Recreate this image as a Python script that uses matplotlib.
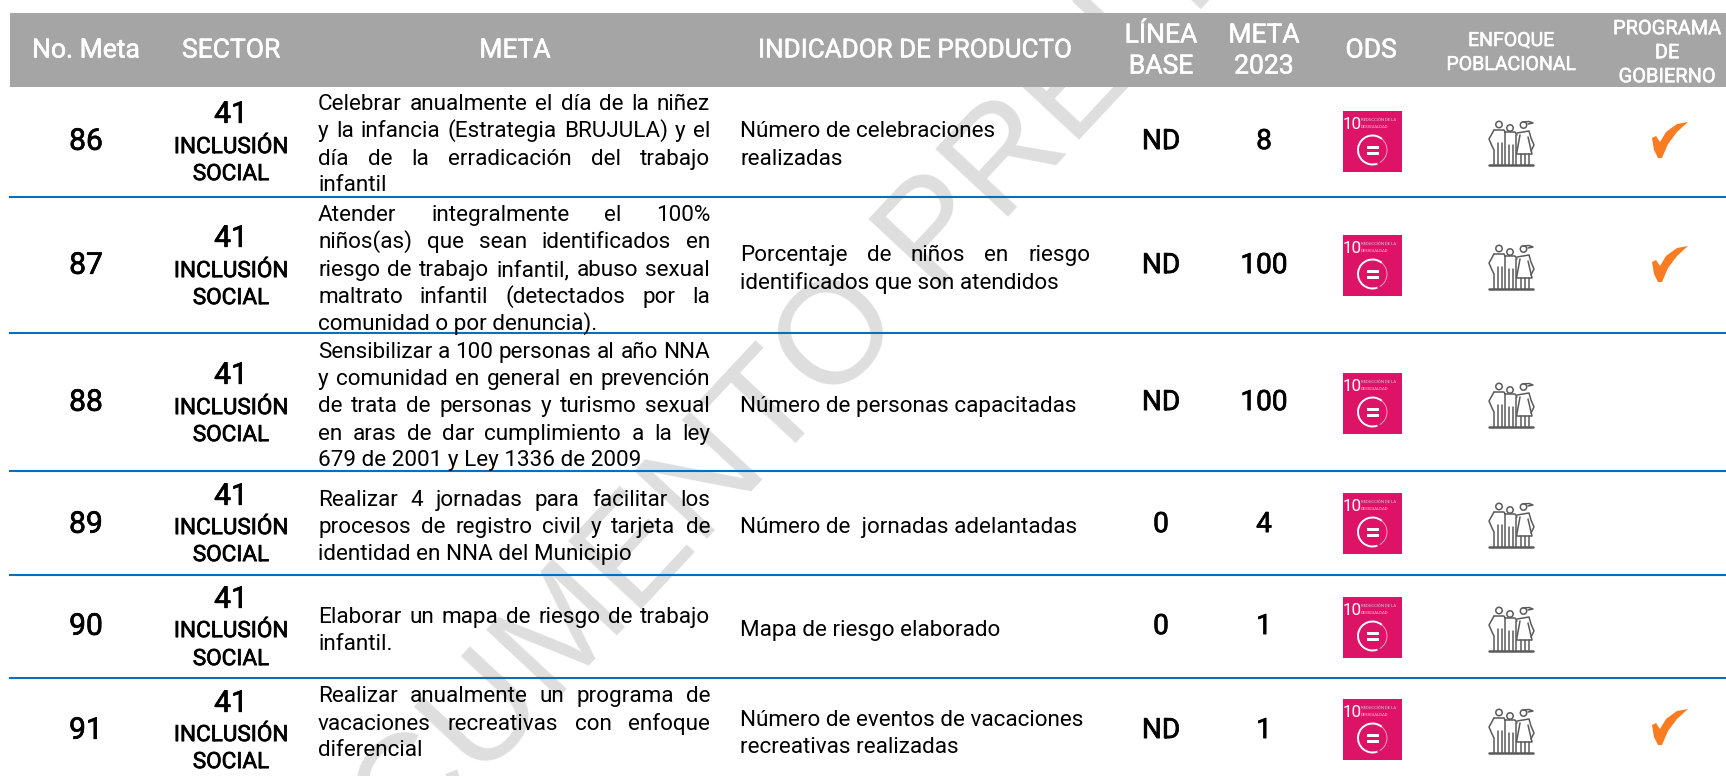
import numpy as np
import matplotlib
matplotlib.use("Agg")
import matplotlib.pyplot as plt
import matplotlib.patheffects as pe
from matplotlib.patches import Rectangle, Polygon, Circle, Arc
from matplotlib.lines import Line2D

FONT = ['Roboto', 'DejaVu Sans']

# ---------- data ----------
metas = ["86", "87", "88", "89", "90", "91"]
sector_code = ["41"] * 6
sector_name = ["INCLUSIÓN", "SOCIAL"]
linea_base = ["ND", "ND", "ND", "0", "0", "ND"]
meta_2023 = ["8", "100", "100", "4", "1", "1"]
programa = [True, True, False, False, False, True]
meta_text = [
    ["Celebrar anualmente el día de la niñez", "y la infancia (Estrategia BRUJULA)  y el",
     "día de la erradicación del trabajo", "infantil"],
    ["Atender integralmente el 100%", "niños(as) que sean identificados en",
     "riesgo de trabajo infantil, abuso sexual", "maltrato infantil (detectados por la",
     "comunidad o por denuncia)."],
    ["Sensibilizar a 100 personas al año NNA", "y comunidad en general en prevención",
     "de trata de personas y turismo sexual", "en aras de dar cumplimiento a la ley",
     "679 de 2001 y Ley 1336 de 2009"],
    ["Realizar 4 jornadas para facilitar los", "procesos de registro civil y tarjeta de",
     "identidad en NNA del Municipio"],
    ["Elaborar un mapa de riesgo de trabajo", "infantil."],
    ["Realizar anualmente un programa de", "vacaciones recreativas con enfoque", "diferencial"],
]
indicador = [
    ["Número de celebraciones", "realizadas"],
    ["Porcentaje de niños en riesgo", "identificados que son atendidos"],
    ["Número de personas capacitadas"],
    ["Número de  jornadas adelantadas"],
    ["Mapa de riesgo elaborado"],
    ["Número de eventos de vacaciones", "recreativas realizadas"],
]
indicador_justified = [False, True, False, False, False, False]
headers = [["No. Meta"], ["SECTOR"], ["META"], ["INDICADOR DE PRODUCTO"], ["LÍNEA", "BASE"],
           ["META", "2023"], ["ODS"], ["ENFOQUE", "POBLACIONAL"], ["PROGRAMA", "DE", "GOBIERNO"]]
watermark = "DOCUMENTO PRELIMINAR"

# ---------- layout (pixels) ----------
W, H = 1726, 776
col_x = [86, 231, 515, 915, 1161, 1264, 1371, 1511, 1667]
header_line_y = [[48], [48], [48], [48], [33, 64], [33, 64], [48], [39, 63], [27, 51, 75]]
header_px = [26.5, 26.5, 26.5, 26, 26.5, 26.5, 26.5, 19.5, 20]
rule_y = [197, 333, 471, 575, 678]
row_y = [139, 263, 400, 522, 624, 728]
sector_y = [(112, 145, 172), (236, 269, 296), (373, 406, 433), (494, 526, 553), (597, 629, 657), (701, 733, 760)]
meta_y = [[102, 129, 157, 183], [213, 240, 268, 295, 322], [350, 377, 404, 432, 458],
          [498, 525, 552], [615, 642], [694, 722, 748]]
ind_y = [[129, 157], [253, 281], [404], [525], [628], [718, 745]]
sdg_top = [111, 235, 373, 493, 597, 699]
people_top = [121, 245, 383, 503, 607, 709]
check_top = [122, 246, None, None, None, 709]

fig = plt.figure(figsize=(W / 100, H / 100), dpi=100)
ax = fig.add_axes([0, 0, 1, 1])
ax.set_xlim(0, W)
ax.set_ylim(H, 0)
ax.axis("off")
renderer = fig.canvas.get_renderer()
HEAVY = [pe.withStroke(linewidth=0.5, foreground="black")]
WHITE_HEAVY = [pe.withStroke(linewidth=0.4, foreground="white")]


def pt(px):
    return px * 0.72


def label(x, y, s, px, color="black", ha="center", heavy=False, z=6):
    t = ax.text(x, y + px * 0.36, s, fontsize=pt(px), color=color, ha=ha, va="baseline",
                family=FONT, zorder=z)
    if heavy:
        t.set_path_effects(HEAVY if color == "black" else WHITE_HEAVY)
    return t


def width(s, px):
    t = ax.text(0, 0, s, fontsize=pt(px), family=FONT)
    w = t.get_window_extent(renderer).width
    t.remove()
    return w


def justified(x0, x1, y, s, px):
    words = s.split()
    ws = [width(w, px) for w in words]
    gap = (x1 - x0 - sum(ws)) / max(1, len(words) - 1)
    x = x0
    for w, wd in zip(words, ws):
        label(x, y, w, px, ha="left")
        x += wd + gap


# watermark sits below the header band
ax.text(233, 993, watermark, fontsize=pt(145), color="#dedede", rotation=47, rotation_mode="anchor",
        ha="left", va="center", family=['Liberation Sans', 'DejaVu Sans'], zorder=1)

ax.add_patch(Rectangle((10, 13), W - 10, 74, fc="#a5a5a5", ec="none", zorder=2))
for x, lines, ys, px in zip(col_x, headers, header_line_y, header_px):
    for s, y in zip(lines, ys):
        label(x, y, s, px, color="white", heavy=True)

for y in rule_y:
    ax.add_line(Line2D([10, W], [y, y], color="#0070c0", lw=1.5, zorder=5))

BODY = 22.5
for i in range(len(metas)):
    label(col_x[0], row_y[i], metas[i], 30, heavy=True)
    label(col_x[1], sector_y[i][0], sector_code[i], 30, heavy=True)
    label(col_x[1], sector_y[i][1], sector_name[0], 22.5, heavy=True)
    label(col_x[1], sector_y[i][2], sector_name[1], 22.5, heavy=True)
    n = len(meta_text[i])
    for j, (s, y) in enumerate(zip(meta_text[i], meta_y[i])):
        if j < n - 1:
            justified(318, 710, y, s, BODY)
        else:
            label(318, y, s, BODY, ha="left")
    for j, (s, y) in enumerate(zip(indicador[i], ind_y[i])):
        if indicador_justified[i] and j == 0:
            justified(740, 1090, y, s, BODY)
        else:
            label(740, y, s, BODY, ha="left")
    label(col_x[4], row_y[i], linea_base[i], 28, heavy=True)
    label(col_x[5], row_y[i], meta_2023[i], 28, heavy=True)


def sdg_icon(x, y):
    ax.add_patch(Rectangle((x, y), 59, 61, fc="#dd1367", ec="none", zorder=4))
    ax.text(x + 9, y + 18, "10", fontsize=pt(17), color="white", ha="center", va="baseline",
            family=FONT, zorder=5)
    ax.text(x + 18, y + 10, "REDUCCIÓN DE LA", fontsize=pt(4.2), color="#f7c6da", ha="left", va="baseline",
            family=FONT, zorder=5)
    ax.text(x + 18, y + 17, "DESIGUALDAD", fontsize=pt(4.2), color="#f7c6da", ha="left", va="baseline",
            family=FONT, zorder=5)
    cx, cy = x + 29.5, y + 39
    ax.add_patch(Arc((cx, cy), 29, 29, theta1=70, theta2=310, ec="white", lw=1.4, zorder=5))
    ax.add_patch(Arc((cx, cy), 29, 29, theta1=-50, theta2=60, ec="#f0a0c4", lw=0.7, zorder=5))
    ax.add_patch(Rectangle((cx - 6, cy - 4.5), 12, 3, fc="white", ec="none", zorder=5))
    ax.add_patch(Rectangle((cx - 6, cy + 1.5), 12, 3, fc="white", ec="none", zorder=5))


def people_icon(x, y):
    c = "#5a5a5a"
    lw = 1.1
    kw = dict(color=c, lw=lw, zorder=4, solid_capstyle="round")

    def pl(pts, **k):
        a = np.array(pts, float)
        ax.add_line(Line2D(x + a[:, 0], y + a[:, 1], **{**kw, **k}))

    for hx, hy in [(12, 3.5), (23, 7), (36.5, 4)]:
        ax.add_patch(Circle((x + hx, y + hy), 3.2, fc="white", ec=c, lw=lw, zorder=4))
    pl([(36, 1), (42, 0.5), (46, 2), (41, 3)])
    pl([(2, 44), (46, 44)], lw=1.8)
    pl([(7, 9), (2, 18), (5, 25), (7, 29), (7, 44)])
    pl([(7, 9), (17, 9), (18, 11)])
    for ux in [11, 15]:
        pl([(ux, 22), (ux, 44)])
    pl([(18, 11), (28, 11), (30, 14)])
    pl([(18, 11), (18, 44)])
    for ux in [22, 26]:
        pl([(ux, 24), (ux, 44)])
    pl([(29, 14), (29, 44)])
    pl([(30, 12), (42, 10), (44, 17), (47, 24), (44, 30)])
    pl([(33, 14), (29.5, 33), (45, 33), (41, 16)])
    for ux in [34, 38, 42]:
        pl([(ux, 33), (ux, 44)])


def check_mark(x, y):
    shape = np.array([[0, 16], [4, 14], [8, 20], [14, 10], [25, 2], [36, 0], [25, 10], [16, 22], [10, 36], [6, 36], [2, 28]], float)
    ax.add_patch(Polygon(shape + [x, y], closed=True, fc="#f97b22", ec="none", zorder=4))


for i in range(len(metas)):
    sdg_icon(1343, sdg_top[i])
    people_icon(1487, people_top[i])
    if programa[i]:
        check_mark(1652, check_top[i])

fig.savefig("out.png", dpi=100, facecolor="white")
